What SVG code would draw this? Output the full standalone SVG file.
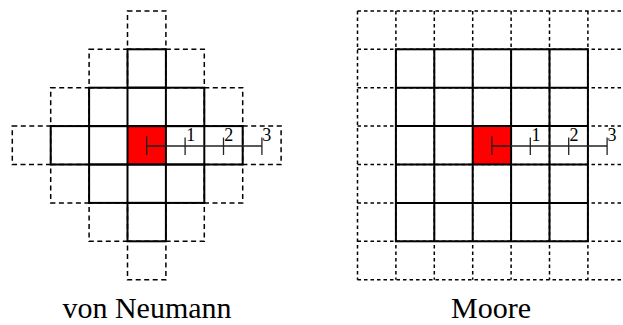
<svg xmlns="http://www.w3.org/2000/svg" width="623" height="325" viewBox="0 0 623 325">
<style>
.sol{fill:none;stroke:#000;stroke-width:2}
.dsh{fill:none;stroke:#000;stroke-width:1.5;stroke-dasharray:5,3.5}
.dshm{fill:none;stroke:#000;stroke-width:1.5;stroke-dasharray:3.5,3}
.red{fill:#ff0000}
.rul{fill:none;stroke:#222;stroke-width:1.3}
.num{font-family:"Liberation Serif","Times New Roman",serif;font-size:18px;fill:#000}
.cap{font-family:"Liberation Serif","Times New Roman",serif;font-size:30px;fill:#000}
</style>
<rect width="623" height="325" fill="#fff"/>
<g id="vonneumann">
<rect class="red" x="127.5" y="126.1" width="38.4" height="38.4"/>
<g class="dsh">
<rect x="127.5" y="10.9" width="38.4" height="38.4"/>
<rect x="127.5" y="241.3" width="38.4" height="38.4"/>
<rect x="12.3" y="126.1" width="38.4" height="38.4"/>
<rect x="242.7" y="126.1" width="38.4" height="38.4"/>
<rect x="89.1" y="49.3" width="38.4" height="38.4"/>
<rect x="165.9" y="49.3" width="38.4" height="38.4"/>
<rect x="50.7" y="87.7" width="38.4" height="38.4"/>
<rect x="204.3" y="87.7" width="38.4" height="38.4"/>
<rect x="50.7" y="164.5" width="38.4" height="38.4"/>
<rect x="204.3" y="164.5" width="38.4" height="38.4"/>
<rect x="89.1" y="202.9" width="38.4" height="38.4"/>
<rect x="165.9" y="202.9" width="38.4" height="38.4"/>
</g>
<g class="sol">
<rect x="127.5" y="49.3" width="38.4" height="38.4"/>
<rect x="89.1" y="87.7" width="115.2" height="38.4"/>
<line x1="127.5" y1="87.7" x2="127.5" y2="126.1"/>
<line x1="165.9" y1="87.7" x2="165.9" y2="126.1"/>
<rect x="50.7" y="126.1" width="192" height="38.4"/>
<line x1="89.1" y1="126.1" x2="89.1" y2="164.5"/>
<line x1="127.5" y1="126.1" x2="127.5" y2="164.5"/>
<line x1="165.9" y1="126.1" x2="165.9" y2="164.5"/>
<line x1="204.3" y1="126.1" x2="204.3" y2="164.5"/>
<rect x="89.1" y="164.5" width="115.2" height="38.4"/>
<line x1="127.5" y1="164.5" x2="127.5" y2="202.9"/>
<line x1="165.9" y1="164.5" x2="165.9" y2="202.9"/>
<rect x="127.5" y="202.9" width="38.4" height="38.4"/>
</g>
<g class="rul">
<line x1="146.7" y1="146" x2="261.9" y2="146"/>
<line x1="146.7" y1="136" x2="146.7" y2="155"/>
<line x1="185.1" y1="137.5" x2="185.1" y2="155"/>
<line x1="223.5" y1="137.5" x2="223.5" y2="155"/>
<line x1="261.9" y1="137.5" x2="261.9" y2="155"/>
</g>
<text class="num" x="186.3" y="140.5">1</text>
<text class="num" x="224.2" y="140.5">2</text>
<text class="num" x="262.3" y="140.5">3</text>
<text class="cap" x="147" y="318" text-anchor="middle">von Neumann</text>
</g>
<g id="moore">
<rect class="red" x="472.7" y="126.1" width="38.4" height="38.4"/>
<g class="dshm">
<line x1="357.5" y1="10.9" x2="626.3" y2="10.9"/>
<line x1="357.5" y1="49.3" x2="626.3" y2="49.3"/>
<line x1="357.5" y1="87.7" x2="626.3" y2="87.7"/>
<line x1="357.5" y1="126.1" x2="626.3" y2="126.1"/>
<line x1="357.5" y1="164.5" x2="626.3" y2="164.5"/>
<line x1="357.5" y1="202.9" x2="626.3" y2="202.9"/>
<line x1="357.5" y1="241.3" x2="626.3" y2="241.3"/>
<line x1="357.5" y1="279.7" x2="626.3" y2="279.7"/>
<line x1="357.5" y1="10.9" x2="357.5" y2="279.7"/>
<line x1="395.9" y1="10.9" x2="395.9" y2="279.7"/>
<line x1="434.3" y1="10.9" x2="434.3" y2="279.7"/>
<line x1="472.7" y1="10.9" x2="472.7" y2="279.7"/>
<line x1="511.1" y1="10.9" x2="511.1" y2="279.7"/>
<line x1="549.5" y1="10.9" x2="549.5" y2="279.7"/>
<line x1="587.9" y1="10.9" x2="587.9" y2="279.7"/>
</g>
<g class="sol">
<rect x="395.9" y="49.3" width="192" height="192"/>
<line x1="434.3" y1="49.3" x2="434.3" y2="241.3"/>
<line x1="472.7" y1="49.3" x2="472.7" y2="241.3"/>
<line x1="511.1" y1="49.3" x2="511.1" y2="241.3"/>
<line x1="549.5" y1="49.3" x2="549.5" y2="241.3"/>
<line x1="395.9" y1="87.7" x2="587.9" y2="87.7"/>
<line x1="395.9" y1="126.1" x2="587.9" y2="126.1"/>
<line x1="395.9" y1="164.5" x2="587.9" y2="164.5"/>
<line x1="395.9" y1="202.9" x2="587.9" y2="202.9"/>
</g>
<g class="rul">
<line x1="491.9" y1="146" x2="607.1" y2="146"/>
<line x1="491.9" y1="136" x2="491.9" y2="155"/>
<line x1="530.3" y1="137.5" x2="530.3" y2="155"/>
<line x1="568.7" y1="137.5" x2="568.7" y2="155"/>
<line x1="607.1" y1="137.5" x2="607.1" y2="155"/>
</g>
<text class="num" x="531.5" y="140.5">1</text>
<text class="num" x="569.4" y="140.5">2</text>
<text class="num" x="607.5" y="140.5">3</text>
<text class="cap" x="491" y="318" text-anchor="middle">Moore</text>
</g>
</svg>
